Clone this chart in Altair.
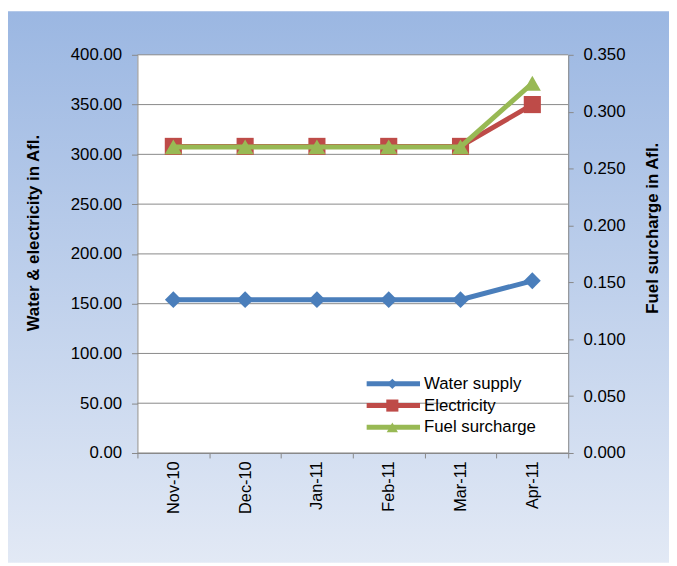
import altair as alt
import pandas as pd

months = ["Nov-10", "Dec-10", "Jan-11", "Feb-11", "Mar-11", "Apr-11"]
water = [154, 154, 154, 154, 154, 173]
electricity = [308, 308, 308, 308, 308, 350]
fuel = [0.269, 0.269, 0.269, 0.269, 0.269, 0.325]
left_ticks = [0, 50, 100, 150, 200, 250, 300, 350, 400]
right_ticks = [0, 0.05, 0.10, 0.15, 0.20, 0.25, 0.30, 0.35]
legend_labels = ["Water supply", "Electricity", "Fuel surcharge"]
colors = ["#4A7EBB", "#BE4B48", "#98B954"]
shapes = ["diamond", "square", "triangle-up"]

FONT = "Liberation Sans"
GRAY = "#888888"
W, H = 436, 403
PAD = {"left": 131, "top": 44, "right": 102, "bottom": 111}

df = pd.DataFrame({"month": months, "water": water, "elec": electricity, "fuel": fuel})
one = alt.InlineData(values=[{"a": 1}])

x_enc = alt.X(
    "month:N", sort=months,
    scale=alt.Scale(type="band", paddingInner=0, paddingOuter=0),
    bandPosition=0.5,
    axis=alt.Axis(title=None, labelAngle=270, labelAlign="right", labelBaseline="middle",
                  labelFontSize=16.5, labelPadding=3, tickBand="extent", tickSize=5,
                  domainColor=GRAY, tickColor=GRAY, labelColor="black", grid=False,
                  zindex=1, labelFont=FONT),
)

left_scale = alt.Scale(domain=[0, 400], nice=False)
left_axis = alt.Axis(values=left_ticks, format=".2f", title="Water & electricity in Afl.",
                     titleX=-105, titleY=180, titleAngle=270, titleAlign="center",
                     titleBaseline="middle", titleFontSize=17, titleFontWeight="bold",
                     titleFont=FONT, labelFont=FONT, labelFontSize=17, labelColor="black",
                     tickSize=6, labelPadding=10, domainColor=GRAY, tickColor=GRAY,
                     grid=False, zindex=1)
right_scale = alt.Scale(domain=[0, 0.35], nice=False)
right_axis = alt.Axis(orient="right", values=right_ticks, format=".3f",
                      title="Fuel surcharge in Afl.", titleX=85, titleY=175, titleAngle=270,
                      titleAlign="center", titleBaseline="middle", titleFontSize=17,
                      titleFontWeight="bold", titleFont=FONT, labelFont=FONT,
                      labelFontSize=17, labelColor="black", tickSize=5, labelPadding=10,
                      domainColor=GRAY, tickColor=GRAY, grid=False, zindex=1)

bg = alt.Chart(one).mark_rect(
    fill=alt.LinearGradient(gradient="linear", x1=0, x2=0, y1=0, y2=1,
                            stops=[alt.GradientStop(color="#9BB7E2", offset=0),
                                   alt.GradientStop(color="#E2E9F5", offset=1)])
).encode(x=alt.value(-PAD["left"]), x2=alt.value(W + PAD["right"]),
         y=alt.value(-PAD["top"]), y2=alt.value(H + PAD["bottom"]))

white = alt.Chart(one).mark_rect(fill="white").encode(
    x=alt.value(0), x2=alt.value(W), y=alt.value(0), y2=alt.value(H))

grid = alt.Chart(pd.DataFrame({"v": left_ticks})).mark_rule(color=GRAY, strokeWidth=1).encode(
    y=alt.Y("v:Q", scale=left_scale, axis=left_axis))

base = alt.Chart(df)
lw = 5
water_line = base.mark_line(color=colors[0], strokeWidth=lw).encode(
    x=x_enc, y=alt.Y("water:Q", scale=left_scale, axis=left_axis))
water_pts = base.mark_point(shape=shapes[0], filled=True, opacity=1, size=290, color=colors[0]).encode(
    x=x_enc, y=alt.Y("water:Q", scale=left_scale, axis=left_axis))
elec_line = base.mark_line(color=colors[1], strokeWidth=lw).encode(
    x=x_enc, y=alt.Y("elec:Q", scale=left_scale, axis=left_axis))
elec_pts = base.mark_point(shape=shapes[1], filled=True, opacity=1, size=300, color=colors[1]).encode(
    x=x_enc, y=alt.Y("elec:Q", scale=left_scale, axis=left_axis))
left_group = alt.layer(grid, water_line, water_pts, elec_line, elec_pts)

fuel_line = base.mark_line(color=colors[2], strokeWidth=lw).encode(
    x=x_enc, y=alt.Y("fuel:Q", scale=right_scale, axis=right_axis))
fuel_pts = base.mark_point(shape=shapes[2], filled=True, opacity=1, size=300, color=colors[2]).encode(
    x=x_enc, y=alt.Y("fuel:Q", scale=right_scale, axis=right_axis))
right_group = alt.layer(fuel_line, fuel_pts)

legend_layers = []
leg_y = [333, 355, 377]
leg_sizes = [110, 150, 130]
for lab, c, s, yy, sz in zip(legend_labels, colors, shapes, leg_y, leg_sizes):
    legend_layers.append(alt.Chart(one).mark_rule(color=c, strokeWidth=5).encode(
        x=alt.value(232), x2=alt.value(286), y=alt.value(yy)))
    legend_layers.append(alt.Chart(one).mark_point(shape=s, filled=True, opacity=1, size=sz, color=c).encode(
        x=alt.value(258), y=alt.value(yy)))
    legend_layers.append(alt.Chart(one).mark_text(text=lab, align="left", baseline="middle",
                                                  fontSize=17, font=FONT, color="black").encode(
        x=alt.value(290), y=alt.value(yy)))

chart = alt.layer(bg, white, left_group, right_group, *legend_layers).resolve_scale(
    y="independent"
).properties(
    width=W, height=H, padding=PAD, autosize=alt.AutoSizeParams(type="none"),
    background="white"
).configure_view(stroke=None)

chart.save("out.html", embed_options={"renderer": "svg", "actions": False})
